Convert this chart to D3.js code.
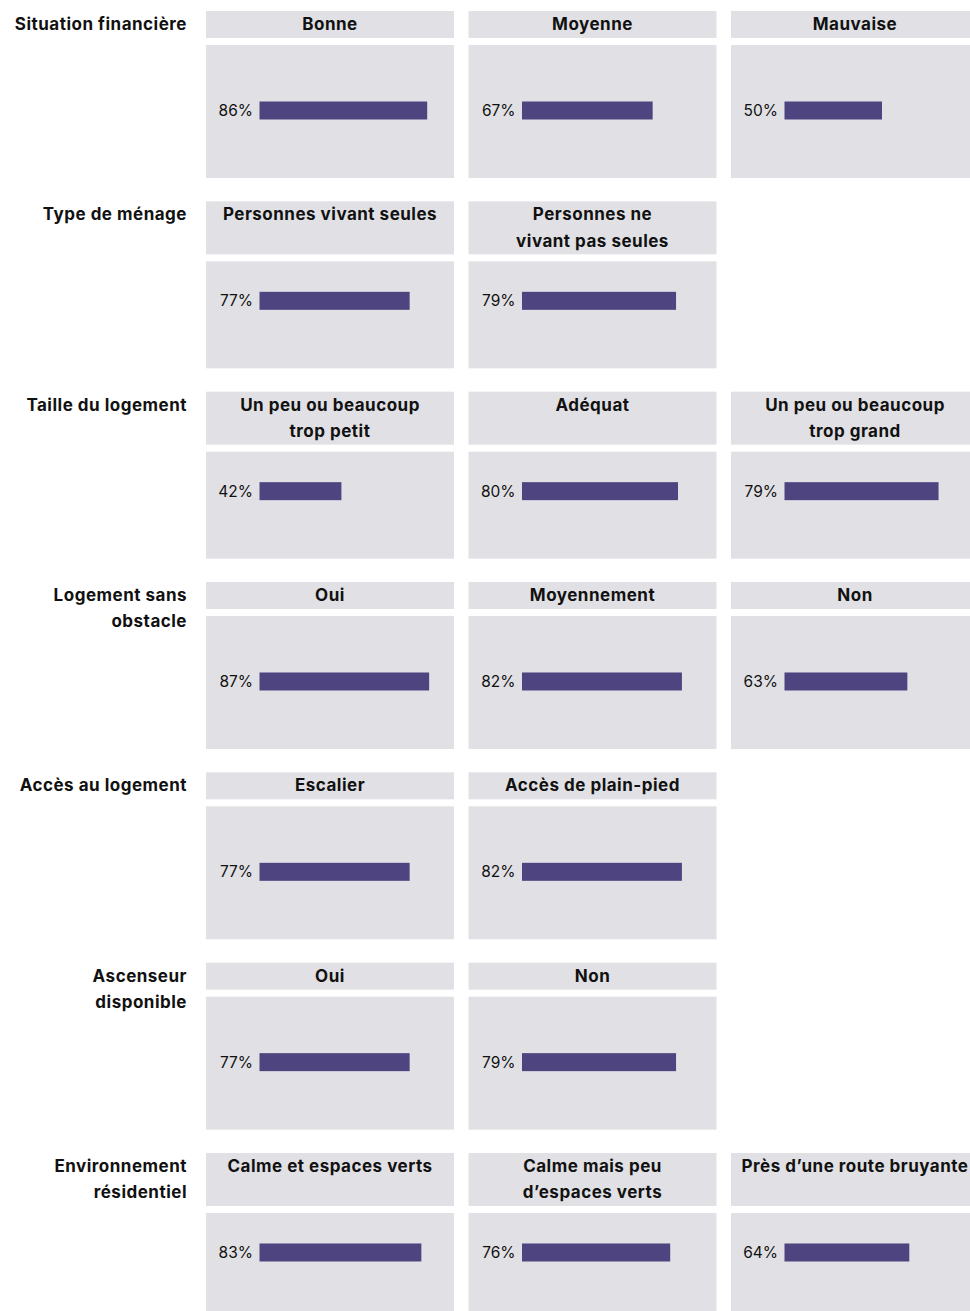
<!DOCTYPE html>
<html>
<head>
<meta charset="utf-8">
<script src="https://cdn.jsdelivr.net/npm/d3@7"></script>
<style>
  html, body { margin: 0; padding: 0; background: #fff; overflow: hidden; }
  svg { display: block; }
  text { font-family: Inter, "Noto Sans", sans-serif; fill: #111; }
</style>
</head>
<body>
<svg id="chart" width="970" height="1311"></svg>
<script>
// ---- Data ----
const groups = [
  "Situation financière",
  "Type de ménage",
  "Taille du logement",
  "Logement sans\nobstacle",
  "Accès au logement",
  "Ascenseur\ndisponible",
  "Environnement\nrésidentiel"
];
const categories = [
  ["Bonne", "Moyenne", "Mauvaise"],
  ["Personnes vivant seules", "Personnes ne\nvivant pas seules"],
  ["Un peu ou beaucoup\ntrop petit", "Adéquat", "Un peu ou beaucoup\ntrop grand"],
  ["Oui", "Moyennement", "Non"],
  ["Escalier", "Accès de plain-pied"],
  ["Oui", "Non"],
  ["Calme et espaces verts", "Calme mais peu\nd’espaces verts", "Près d’une route bruyante"]
];
const values = [
  [86, 67, 50],
  [77, 79],
  [42, 80, 79],
  [87, 82, 63],
  [77, 82],
  [77, 79],
  [83, 76, 64]
];

// ---- Layout ----
const svg = d3.select("#chart");
const panelBg = "#e1e1e5";
const barColor = "#4e4480";

const y = d3.scaleBand().domain(d3.range(groups.length)).range([11, 11 + 190.33 * groups.length]).padding(0);
const col = d3.scaleBand().domain([0, 1, 2]).range([206, 979]).paddingInner(14.5 / 262.5).paddingOuter(0);
const x = d3.scaleLinear().domain([0, 100]).range([0, 195]);

const lineH = 26.5;
const bodyBottom = 167;
const barH = 18;
const barCenter = 99.5;
const barOffset = 53.5;

groups.forEach((g, i) => {
  const top = y(i);
  const gRow = svg.append("g").attr("transform", `translate(0,${top})`);
  const cats = categories[i];
  const maxLines = d3.max(cats, c => c.split("\n").length);
  const headerH = maxLines === 1 ? 27 : 53;
  const bodyTop = headerH + 7;

  // row label
  const lbl = gRow.append("text")
    .attr("x", 187).attr("y", 19)
    .attr("text-anchor", "end")
    .attr("font-size", 17).attr("font-weight", 700)
    .attr("letter-spacing", 0.5);
  g.split("\n").forEach((ln, k) => {
    lbl.append("tspan").attr("x", 187).attr("dy", k === 0 ? 0 : lineH).text(ln);
  });

  cats.forEach((c, j) => {
    const px = col(j);
    const w = col.bandwidth();
    const p = gRow.append("g").attr("transform", `translate(${px},0)`);
    p.append("rect").attr("x", 0).attr("y", 0).attr("width", w).attr("height", headerH).attr("fill", panelBg);
    p.append("rect").attr("x", 0).attr("y", bodyTop).attr("width", w).attr("height", bodyBottom - bodyTop).attr("fill", panelBg);
    const t = p.append("text")
      .attr("x", w / 2).attr("y", 19)
      .attr("text-anchor", "middle")
      .attr("font-size", 17).attr("font-weight", 700)
      .attr("letter-spacing", 0.5);
    c.split("\n").forEach((ln, k) => {
      t.append("tspan").attr("x", w / 2).attr("dy", k === 0 ? 0 : lineH).text(ln);
    });
    const v = values[i][j];
    p.append("rect")
      .attr("x", barOffset).attr("y", barCenter - barH / 2)
      .attr("width", x(v)).attr("height", barH)
      .attr("fill", barColor);
    p.append("text")
      .attr("x", barOffset - 6.5).attr("y", barCenter + 5.5)
      .attr("text-anchor", "end")
      .attr("font-size", 15.5).attr("font-weight", 400)
      .text(v + "%");
  });
});
</script>
</body>
</html>
